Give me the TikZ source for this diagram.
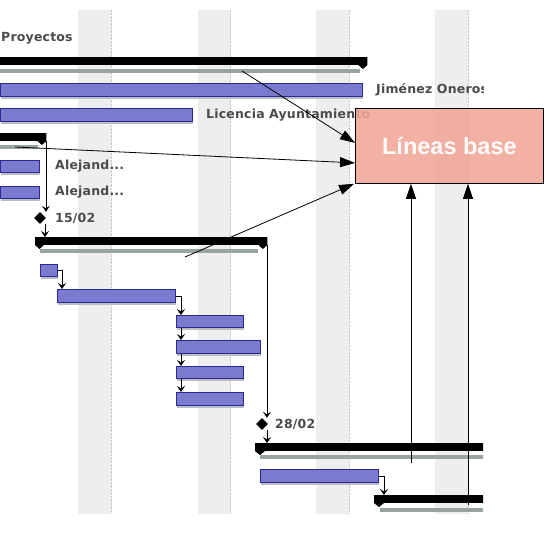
\documentclass[tikz,border=0pt]{standalone}
\usepackage{fontspec}
\usepackage{xcolor}
\usepackage{tikz}
\usetikzlibrary{shapes.geometric, arrows.meta, shadows}
\newfontfamily\ganttfont[LetterSpace=1.5]{DejaVu Sans}
\newfontfamily\boxfont{Liberation Sans}
\definecolor{barfill}{RGB}{122,122,206}
\definecolor{bardraw}{RGB}{40,40,150}
\definecolor{basegray}{RGB}{150,165,160}
\definecolor{shadowgray}{RGB}{185,190,195}
\definecolor{bandgray}{RGB}{238,238,238}
\definecolor{bandedge}{RGB}{200,200,200}
\definecolor{boxfill}{RGB}{240,166,150}
\definecolor{textgray}{RGB}{75,75,75}

\begin{document}
\begin{tikzpicture}[x=1pt, y=-1pt, >=Stealth,
    task/.style={rectangle, draw=bardraw, fill=barfill, line width=0.8pt, anchor=north west, inner sep=0pt, minimum height=12pt,
        drop shadow={shadow xshift=0.5pt, shadow yshift=-2.5pt, fill=shadowgray, opacity=1}},
    sumbar/.style={rectangle, fill=black, anchor=north west, inner sep=0pt, minimum height=7.5pt},
    basebar/.style={rectangle, fill=basegray, anchor=north west, inner sep=0pt, minimum height=4pt},
    milestone/.style={diamond, fill=black, inner sep=0pt, minimum size=12pt},
    ganttlabel/.style={font=\ganttfont\bfseries\fontsize{12.5}{15}\selectfont, text=textgray, anchor=west, inner sep=0pt},
    dep/.style={->, line width=0.8pt, >={Stealth[length=6pt, width=8pt, inset=2.5pt]}},
    blarrow/.style={->, line width=0.8pt, >={Triangle[length=15pt, width=10pt]}}]
    \useasboundingbox (0,0) rectangle (550,549);

    % Weekend bands
    \foreach \bx in {78,197.5,316,435} {
        \fill[bandgray] (\bx,10) rectangle ++(33,504);
        \draw[bandedge, densely dotted] (\bx+33,10) -- ++(0,504);
    }

    \begin{scope}
    \clip (0,0) rectangle (483,549);
    % Project summary
    \node (proy) [ganttlabel] at (1,38) {Proyectos};
    \node (sum1) [sumbar, minimum width=367pt] at (0,57) {};
    \fill (sum1.north east) -- ++(0,8) -- ++(-4.5,4) -- ++(-4.5,-4) -- ++(0,-8) -- cycle;
    \node (base1) [basebar, minimum width=360pt] at (0,69) {};
    \node (tJim) [task, minimum width=362pt, minimum height=13pt] at (0,83) {};
    \node (labJim) [ganttlabel] at (376,89.5) {Jiménez Oneros};
    \node (tLic) [task, minimum width=192pt, minimum height=13pt] at (0,108) {};
    \node (labLic) [ganttlabel] at (206,115) {Licencia Ayuntamiento};

    % First phase
    \node (sum2) [sumbar, minimum width=46pt] at (0,133) {};
    \fill (sum2.north east) -- ++(0,8) -- ++(-4.5,4) -- ++(-4.5,-4) -- ++(0,-8) -- cycle;
    \node (base2) [basebar, minimum width=38pt] at (0,145) {};
    \node (tA1) [task, minimum width=39pt] at (0,160) {};
    \node (labA1) [ganttlabel] at (55,166) {Alejand...};
    \node (tA2) [task, minimum width=39pt] at (0,186) {};
    \node (labA2) [ganttlabel] at (55,192) {Alejand...};
    \node (m1) [milestone] at (40,218) {};
    \node (lab15) [ganttlabel] at (55,218) {15/02};

    % Second phase
    \node (sum3) [sumbar, minimum width=232pt] at (35,237) {};
    \fill (sum3.north west) -- ++(0,8) -- ++(4.5,4) -- ++(4.5,-4) -- ++(0,-8) -- cycle;
    \fill (sum3.north east) -- ++(0,8) -- ++(-4.5,4) -- ++(-4.5,-4) -- ++(0,-8) -- cycle;
    \node (base3) [basebar, minimum width=218pt] at (40,249) {};
    \node (t3a) [task, minimum width=17pt] at (40,264) {};
    \node (t3b) [task, minimum width=118pt, minimum height=13pt] at (57,289) {};
    \node (t3c) [task, minimum width=67pt] at (176,315) {};
    \node (t3d) [task, minimum width=84pt, minimum height=13pt] at (176,340) {};
    \node (t3e) [task, minimum width=67pt] at (176,366) {};
    \node (t3f) [task, minimum width=67pt, minimum height=13pt] at (176,392) {};
    \node (m2) [milestone] at (262,424) {};
    \node (lab28) [ganttlabel] at (275,424) {28/02};

    % Third phase
    \node (sum4) [sumbar, minimum width=240pt] at (255,443) {};
    \fill (sum4.north west) -- ++(0,8) -- ++(5,4) -- ++(5,-4) -- ++(0,-8) -- cycle;
    \node (base4) [basebar, minimum width=230pt] at (260,455) {};
    \node (t4) [task, minimum width=118pt, minimum height=13pt] at (260,469) {};
    \node (sum5) [sumbar, minimum width=120pt] at (374,495) {};
    \fill (sum5.north west) -- ++(0,8) -- ++(5,4) -- ++(5,-4) -- ++(0,-8) -- cycle;
    \node (base5) [basebar, minimum width=110pt] at (380,508) {};
    \end{scope}

    % Dependencies
    \draw [dep] ([xshift=-0.5pt]sum2.south east) -- ([xshift=-0.5pt]sum2.south east |- m1.north);
    \draw [dep] ([xshift=5pt]m1.south) -- ([xshift=5pt]m1.south |- sum3.north);
    \draw [dep] ([xshift=-0.5pt]sum3.south east) -- ([xshift=-0.5pt]sum3.south east |- m2.north);
    \draw [dep] ([xshift=5pt]m2.south) -- ([xshift=5pt]m2.south |- sum4.north);
    \draw [dep] (t3a.east) -| ([xshift=5pt]t3b.north west);
    \draw [dep] (t3b.east) -| ([xshift=5pt]t3c.north west);
    \draw [dep] ([xshift=5pt]t3c.south west) -- ([xshift=5pt]t3d.north west);
    \draw [dep] ([xshift=5pt]t3d.south west) -- ([xshift=5pt]t3e.north west);
    \draw [dep] ([xshift=5pt]t3e.south west) -- ([xshift=5pt]t3f.north west);
    \draw [dep] (t4.east) -| ([xshift=10pt]sum5.north west);

    % Baselines box
    \node (lb) [rectangle, draw=black, line width=0.8pt, fill=boxfill, fill opacity=0.88, text opacity=0.95, anchor=north west,
        minimum width=188pt, minimum height=75pt, text=white, font=\boxfont\bfseries\fontsize{23.5}{28}\selectfont] at (355,108) {Líneas base};

    \coordinate (b1) at (242,71);
    \coordinate (b2) at (15,147);
    \coordinate (b3) at (185,257);
    \coordinate (b4) at (411,463);
    \coordinate (b5) at (468,505);
    \draw [blarrow] (b1) -- ([yshift=3pt]lb.west);
    \draw [blarrow] (b2) -- ([yshift=-17pt]lb.west);
    \draw [blarrow] (b3) -- ([xshift=-1pt]lb.south west);
    \draw [blarrow] (b4) -- (b4 |- lb.south);
    \draw [blarrow] (b5) -- (b5 |- lb.south);
\end{tikzpicture}
\end{document}
